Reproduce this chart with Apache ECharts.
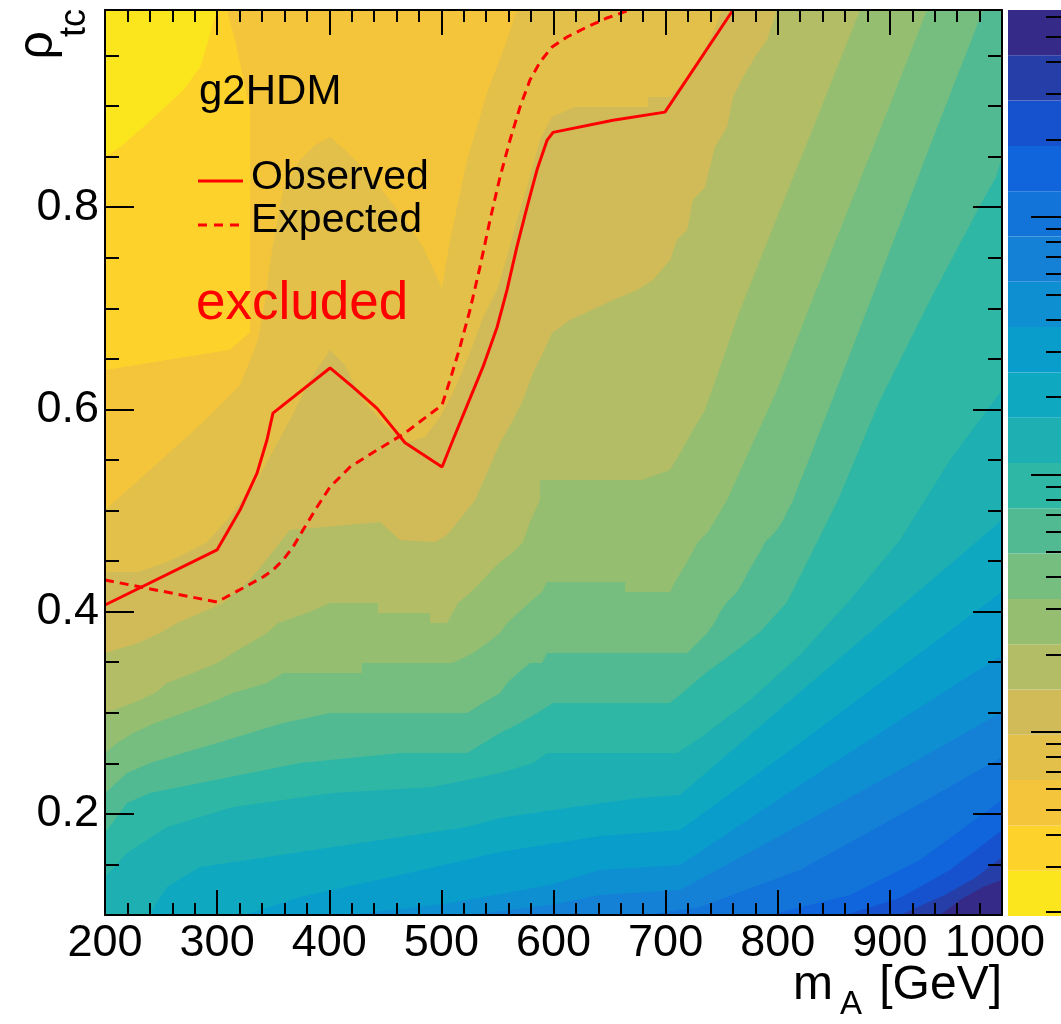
<!DOCTYPE html>
<html><head><meta charset="utf-8">
<script src="https://cdn.jsdelivr.net/npm/echarts@6.0.0/dist/echarts.min.js"></script>
<style>html,body{margin:0;padding:0;background:#fff;}#c{width:1061px;height:1024px;}</style>
</head><body><div id="c"></div>
<script>
// ---- axis ranges / ticks ----
const xRange = [200, 1000];
const yRange = [0.1, 0.995];
const xMajorStep = 100;
const yMajorTicks = [0.2, 0.4, 0.6, 0.8];
const yMinorTicks = [0.15, 0.25, 0.3, 0.35, 0.45, 0.5, 0.55, 0.65, 0.7, 0.75, 0.85, 0.9, 0.95];
// colour bar (log10 of z)
const zLogRange = [-2.7146, 0.8039];
const zMajorTicks = [0.01, 0.1, 1];
const zMinorTicks = [0.002,0.003,0.004,0.005,0.006,0.007,0.008,0.009,0.02,0.03,0.04,0.05,0.06,0.07,0.08,0.09,0.2,0.3,0.4,0.5,0.6,0.7,0.8,0.9,2,3,4,5,6];
// 20 contour colours, lowest level (yellow) first
const palette = ['#fbe61d','#fdd22b','#f4c53b','#e3c049','#d1bb59','#b3bd65','#95be71','#76be7f','#52ba92','#2eb7a4','#1eafb3','#0fa8c1','#099dcc','#0e8fd1','#1481d6','#1273d9','#1064dc','#1652cd','#263ea8','#352a87'];

// ---- contour edges: [mA, rho], edge k separates level k-1 and k ----
const edge01 = [[200,0.850],[213,0.859],[234,0.879],[270,0.916],[285,0.939],[300,0.995]];
const edge12 = [[200,0.639],[311.5,0.659],[329.4,0.676],[329.4,0.896],[316,0.965],[308.8,0.995]];
const edge23 = [[200,0.5005],[240.1,0.540],[284.7,0.5846],[320.4,0.624],[336.5,0.6686],[342.7,0.708],[348.9,0.7576],[358.8,0.817],[373.9,0.8466],[387.3,0.8615],[400.7,0.8694],[414.0,0.8565],[436.3,0.8318],[463.1,0.7942],[483.6,0.7606],[500.6,0.72],[507.7,0.7675],[522.9,0.8466],[540.7,0.9129],[558.5,0.9653],[567.4,0.995]];
const edge34 = [[200,0.4392],[229.4,0.4392],[255.3,0.449],[274.0,0.459],[291.0,0.4689],[308.8,0.4906],[335.6,0.5302],[365.0,0.5895],[382.8,0.629],[400.7,0.6587],[414.0,0.6439],[427.4,0.6123],[447.9,0.5866],[467.6,0.5668],[485.4,0.5727],[498.8,0.5925],[510.4,0.6162],[525.5,0.6558],[537.1,0.6914],[549.6,0.718],[558.5,0.7507],[567.4,0.7873],[576.4,0.8199],[588.0,0.8664],[598.7,0.8891],[619.2,0.899],[684.3,0.899],[684.3,0.9089],[703.9,0.9089],[719.1,0.9287],[730.7,0.9485],[741.4,0.9702],[750.3,0.995]];
const edge45 = [[200,0.3591],[229.4,0.369],[249.1,0.3789],[264.2,0.3888],[284.7,0.3987],[305.2,0.4085],[329.3,0.4313],[347.2,0.456],[365.0,0.4807],[445.3,0.4886],[463.1,0.4708],[494.3,0.4689],[505.0,0.4758],[530.0,0.5104],[540.7,0.5371],[552.3,0.5668],[563.9,0.5895],[572.8,0.6093],[581.7,0.636],[590.6,0.6557],[598.7,0.6755],[614.7,0.6884],[634.3,0.6983],[653.1,0.7082],[674.5,0.718],[688.7,0.7279],[703.9,0.7477],[710.1,0.7675],[719.1,0.7774],[724.4,0.8071],[735.1,0.8199],[744.0,0.8595],[754.8,0.8793],[760.1,0.9089],[769.0,0.9287],[779.7,0.9485],[790.4,0.9653],[799.3,0.995]];
const edge56 = [[200,0.2998],[225.0,0.3096],[244.6,0.3195],[255.3,0.3294],[278.5,0.3393],[299.9,0.3492],[314.2,0.3591],[329.3,0.369],[344.5,0.3789],[354.3,0.3888],[380.2,0.3987],[400.7,0.4085],[443.5,0.4085],[443.5,0.3987],[489.9,0.3987],[489.9,0.3888],[505.0,0.3888],[514.8,0.4085],[525.5,0.4184],[534.4,0.4283],[543.4,0.4392],[552.3,0.4491],[563.9,0.459],[572.8,0.4689],[579.0,0.4886],[588.0,0.5104],[588.0,0.5302],[678.9,0.5302],[703.9,0.54],[714.6,0.5598],[724.4,0.5796],[735.1,0.5994],[765.4,0.6953],[798.4,0.7873],[829.7,0.8733],[854.6,0.9425],[873.4,0.995]];
const edge67 = [[200,0.2602],[210.7,0.2701],[225.0,0.28],[244.6,0.2899],[269.6,0.2998],[293.6,0.3096],[314.2,0.3195],[344.5,0.3294],[358.8,0.3393],[429.2,0.3393],[429.2,0.3492],[510.4,0.3492],[528.2,0.3591],[540.7,0.369],[552.3,0.3789],[558.5,0.3888],[568.3,0.3987],[579.0,0.4095],[589.7,0.4194],[594.2,0.4293],[663.8,0.4293],[663.8,0.4194],[703.9,0.4194],[708.4,0.4293],[719.1,0.4491],[728.9,0.4689],[737.8,0.4787],[748.5,0.4985],[754.7,0.5104],[799.3,0.6192],[844.8,0.7477],[891.2,0.8763],[933.1,0.995]];
const edge78 = [[200,0.2206],[219.6,0.2404],[240.1,0.2503],[269.6,0.2602],[299.9,0.2701],[329.3,0.28],[358.8,0.2899],[400.7,0.2998],[522.9,0.2998],[537.1,0.3096],[552.3,0.3195],[558.5,0.3294],[568.3,0.3393],[579.0,0.3492],[589.7,0.3492],[594.2,0.3591],[719.1,0.3591],[728.9,0.37],[737.8,0.3799],[744.0,0.3898],[748.5,0.3996],[754.7,0.4095],[763.7,0.4194],[769.0,0.4293],[773.5,0.4392],[778.8,0.4491],[784.2,0.459],[788.6,0.4689],[797.6,0.4787],[803.8,0.4886],[808.3,0.4985],[813.6,0.5104],[855.5,0.6291],[900.1,0.7576],[944.7,0.8862],[983.1,0.995]];
const edge89 = [[200,0.1811],[219.6,0.2108],[240.1,0.2206],[284.7,0.2305],[329.3,0.2404],[373.9,0.2503],[463.1,0.2602],[522.9,0.2602],[552.3,0.28],[570.1,0.2899],[585.3,0.2998],[599.6,0.3096],[703.9,0.3096],[714.6,0.3195],[736.9,0.3403],[760.1,0.3591],[784.2,0.3799],[808.3,0.4095],[853.7,0.5104],[891.2,0.6093],[935.8,0.7082],[983.1,0.8071],[994.7,0.8298],[1000,0.8496]];
const edge910 = [[200,0.1376],[219.6,0.1613],[255.3,0.187],[314.2,0.2068],[403.3,0.2206],[492.5,0.2266],[552.3,0.2404],[581.7,0.2503],[594.2,0.2602],[710.1,0.2602],[730.7,0.275],[775.3,0.3126],[819.8,0.3571],[864.4,0.4115],[909.0,0.4708],[953.6,0.55],[1000,0.6192]];
const edge1011 = [[240.1,0.1],[244.6,0.1099],[255.3,0.1277],[284.7,0.1475],[344.5,0.1574],[403.3,0.1672],[463.1,0.1771],[522.9,0.187],[552.3,0.1959],[612.0,0.2058],[676.0,0.2157],[712.8,0.2187],[819.8,0.3205],[909.0,0.4046],[1000,0.4906]];
const edge1112 = [[324.9,0.1],[373.9,0.1178],[463.1,0.1396],[552.3,0.1623],[641.5,0.1781],[712.8,0.1841],[819.8,0.2701],[909.0,0.3443],[1000,0.4194]];
const edge1213 = [[418.5,0.1],[507.7,0.1119],[596.9,0.1297],[641.5,0.1445],[712.8,0.1494],[819.8,0.2286],[909.0,0.2928],[1000,0.3571]];
const edge1314 = [[525.5,0.1],[596.9,0.1099],[641.5,0.1198],[712.8,0.1247],[819.8,0.189],[909.0,0.2434],[1000,0.3007]];
const edge1415 = [[681.6,0.1],[730.7,0.1079],[819.8,0.1445],[909.0,0.1989],[1000,0.2562]];
const edge1516 = [[793.1,0.1],[864.4,0.1198],[926.9,0.1544],[1000,0.2137]];
const edge1617 = [[860,0.1],[909.0,0.1168],[953.6,0.1445],[1000,0.1841]];
const edge1718 = [[909.0,0.1],[949.2,0.1198],[975.9,0.1366],[1000,0.1574]];
const edge1819 = [[944.7,0.1],[962.5,0.1148],[983.1,0.1277],[1000,0.1346]];

// ---- exclusion contours ----
const observed = [[200,0.4066],[299.9,0.461],[320.4,0.5005],[335.6,0.537],[344.5,0.570],[349.8,0.5964],[400.7,0.641],[421.2,0.622],[442.6,0.601],[467.6,0.567],[500.6,0.543],[510.4,0.570],[523.7,0.606],[537.1,0.642],[549.6,0.681],[558.5,0.718],[567.4,0.761],[576.4,0.800],[585.3,0.837],[594.2,0.866],[599.6,0.874],[653.1,0.886],[699.4,0.894],[760.1,0.995]];
const expected = [[200,0.4313],[299.9,0.4095],[311.5,0.4165],[323.1,0.4234],[340.9,0.4343],[349.8,0.4412],[358.8,0.4511],[367.7,0.464],[376.6,0.4807],[389.1,0.5035],[400.7,0.5233],[418.5,0.543],[442.6,0.5598],[467.6,0.5767],[500.6,0.6044],[507.7,0.629],[516.6,0.6617],[525.5,0.6983],[534.4,0.7408],[543.4,0.7873],[552.3,0.8298],[561.2,0.8664],[570.1,0.899],[579.0,0.9257],[588.0,0.9436],[598.7,0.9584],[612.0,0.9683],[629.9,0.9782],[647.7,0.9871],[668.2,0.995]];

const edges = [edge01,edge12,edge23,edge34,edge45,edge56,edge67,edge78,edge89,edge910,edge1011,edge1112,edge1213,edge1314,edge1415,edge1516,edge1617,edge1718,edge1819];

// region "level >= k" : edge path closed clockwise through the lower-right of the frame
function closeRegion(edge) {
  const pts = edge.slice();
  const s = edge[0], e = edge[edge.length - 1];
  if (e[1] >= yRange[1] - 1e-9) pts.push([xRange[1], yRange[1]]);
  if (e[1] > yRange[0] + 1e-9) pts.push([xRange[1], yRange[0]]);
  if (s[0] <= xRange[0] + 1e-9) pts.push([xRange[0], yRange[0]]);
  return pts;
}
const regions = [[[xRange[0], yRange[0]], [xRange[0], yRange[1]], [xRange[1], yRange[1]], [xRange[1], yRange[0]]]]
  .concat(edges.map(closeRegion));

const FONT = 'Liberation Sans, Arial, Helvetica, sans-serif';
const BLACK = '#000';
const frameLine = {show: true, onZero: false, lineStyle: {color: BLACK, width: 2}};
const noLine = {show: false, onZero: false};

const chart = echarts.init(document.getElementById('c'), null, {renderer: 'canvas', width: 1061, height: 1024});

const option = {
  backgroundColor: '#fff',
  animation: false,
  grid: [
    {left: 105, top: 10, width: 897, height: 905},
    {left: 1008, top: 10, width: 54, height: 906}
  ],
  xAxis: [
    {gridIndex: 0, type: 'value', min: xRange[0], max: xRange[1], interval: xMajorStep, position: 'bottom', z: 10,
     axisLine: frameLine,
     axisTick: {show: true, inside: true, length: 25, lineStyle: {color: BLACK, width: 2}},
     minorTick: {show: true, splitNumber: 5, length: 12, lineStyle: {color: BLACK, width: 2}},
     axisLabel: {show: true, margin: 6, fontSize: 45, fontFamily: FONT, color: BLACK, showMinLabel: true, showMaxLabel: true,
                 formatter: v => (v === xRange[1] ? '{last|' + v + '}' : String(v)),
                 rich: {last: {fontSize: 45, fontFamily: FONT, color: BLACK, padding: [0, 14, 0, 0]}}},
     splitLine: {show: false}, minorSplitLine: {show: false}},
    {gridIndex: 0, type: 'value', min: xRange[0], max: xRange[1], interval: xMajorStep, position: 'top', z: 10,
     axisLine: frameLine,
     axisTick: {show: true, inside: true, length: 25, lineStyle: {color: BLACK, width: 2}},
     minorTick: {show: true, splitNumber: 5, length: 12, lineStyle: {color: BLACK, width: 2}},
     axisLabel: {show: false}, splitLine: {show: false}},
    {gridIndex: 1, type: 'value', min: 1, max: 2, show: false, axisLine: noLine}
  ],
  yAxis: [
    {gridIndex: 0, type: 'value', min: yRange[0], max: yRange[1], position: 'left', z: 10,
     axisLine: frameLine,
     axisTick: {show: true, inside: true, length: 29, customValues: yMajorTicks, lineStyle: {color: BLACK, width: 2}},
     axisLabel: {show: true, customValues: yMajorTicks, formatter: v => v.toFixed(1), margin: 6, fontSize: 45, fontFamily: FONT, color: BLACK},
     splitLine: {show: false}},
    {gridIndex: 0, type: 'value', min: yRange[0], max: yRange[1], position: 'left', z: 10,
     axisLine: noLine,
     axisTick: {show: true, inside: true, length: 14, customValues: yMinorTicks, lineStyle: {color: BLACK, width: 2}},
     axisLabel: {show: false}, splitLine: {show: false}},
    {gridIndex: 0, type: 'value', min: yRange[0], max: yRange[1], position: 'right', z: 10,
     axisLine: frameLine,
     axisTick: {show: true, inside: true, length: 29, customValues: yMajorTicks, lineStyle: {color: BLACK, width: 2}},
     axisLabel: {show: false}, splitLine: {show: false}},
    {gridIndex: 0, type: 'value', min: yRange[0], max: yRange[1], position: 'right', z: 10,
     axisLine: noLine,
     axisTick: {show: true, inside: true, length: 14, customValues: yMinorTicks, lineStyle: {color: BLACK, width: 2}},
     axisLabel: {show: false}, splitLine: {show: false}},
    {gridIndex: 1, type: 'value', min: zLogRange[0], max: zLogRange[1], position: 'right', z: 10,
     axisLine: noLine,
     axisTick: {show: true, inside: true, length: 30, customValues: zMajorTicks.map(Math.log10), lineStyle: {color: BLACK, width: 2}},
     axisLabel: {show: false}, splitLine: {show: false}},
    {gridIndex: 1, type: 'value', min: zLogRange[0], max: zLogRange[1], position: 'right', z: 10,
     axisLine: noLine,
     axisTick: {show: true, inside: true, length: 15, customValues: zMinorTicks.map(Math.log10), lineStyle: {color: BLACK, width: 2}},
     axisLabel: {show: false}, splitLine: {show: false}}
  ],
  series: [
    {
      type: 'custom', xAxisIndex: 0, yAxisIndex: 0, z: 1, clip: true, silent: true,
      data: regions.map((r, i) => [xRange[0], yRange[0], i]),
      renderItem: function (params, api) {
        const k = api.value(2);
        return {type: 'polygon', shape: {points: regions[k].map(p => api.coord(p))},
                style: {fill: palette[k], stroke: null}};
      }
    },
    {
      type: 'custom', xAxisIndex: 2, yAxisIndex: 4, z: 1, silent: true,
      data: palette.map((c, i) => [1, zLogRange[0], i]),
      renderItem: function (params, api) {
        const i = api.value(2);
        const step = (zLogRange[1] - zLogRange[0]) / palette.length;
        const p0 = api.coord([1, zLogRange[0] + i * step]);
        const p1 = api.coord([2, zLogRange[0] + (i + 1) * step]);
        return {type: 'rect', shape: {x: p0[0], y: p1[1], width: p1[0] - p0[0], height: p0[1] - p1[1]},
                style: {fill: palette[i], stroke: null}};
      }
    },
    {type: 'line', xAxisIndex: 0, yAxisIndex: 0, z: 5, data: observed, showSymbol: false, symbol: 'none', clip: true,
     lineStyle: {color: '#ff0000', width: 3}, silent: true},
    {type: 'line', xAxisIndex: 0, yAxisIndex: 0, z: 5, data: expected, showSymbol: false, symbol: 'none', clip: true,
     lineStyle: {color: '#ff0000', width: 3, type: [9, 6]}, silent: true}
  ],
  graphic: [
    {type: 'text', x: 199, y: 92, z: 100, style: {text: 'g2HDM', font: '42px ' + FONT, fill: BLACK, align: 'left', verticalAlign: 'middle'}},
    {type: 'line', z: 100, shape: {x1: 198, y1: 181, x2: 243, y2: 181}, style: {stroke: '#ff0000', lineWidth: 3}},
    {type: 'line', z: 100, shape: {x1: 198, y1: 225, x2: 243, y2: 225}, style: {stroke: '#ff0000', lineWidth: 3, lineDash: [9, 7]}},
    {type: 'text', x: 251, y: 178, z: 100, style: {text: 'Observed', font: '41px ' + FONT, fill: BLACK, align: 'left', verticalAlign: 'middle'}},
    {type: 'text', x: 251, y: 221, z: 100, style: {text: 'Expected', font: '41px ' + FONT, fill: BLACK, align: 'left', verticalAlign: 'middle'}},
    {type: 'text', x: 196, y: 304, z: 100, style: {text: 'excluded', font: '53px ' + FONT, fill: '#ff0000', align: 'left', verticalAlign: 'middle'}},
    // x-axis title
    {type: 'text', x: 793, y: 986, z: 100, style: {text: 'm', font: '48px ' + FONT, fill: BLACK, align: 'left', verticalAlign: 'middle'}},
    {type: 'text', x: 840, y: 1005, z: 100, style: {text: 'A', font: '33px ' + FONT, fill: BLACK, align: 'left', verticalAlign: 'middle'}},
    {type: 'text', x: 1002, y: 986, z: 100, style: {text: '[GeV]', font: '48px ' + FONT, fill: BLACK, align: 'right', verticalAlign: 'middle'}},
    // y-axis title (rotated)
    {type: 'text', x: 38, y: 31, rotation: Math.PI / 2, z: 100, style: {text: 'ρ', font: '50px ' + FONT, fill: BLACK, align: 'right', verticalAlign: 'middle'}},
    {type: 'text', x: 75, y: 9, rotation: Math.PI / 2, z: 100, style: {text: 'tc', font: '36px ' + FONT, fill: BLACK, align: 'right', verticalAlign: 'middle'}}
  ]
};
chart.setOption(option);
</script>
</body></html>
